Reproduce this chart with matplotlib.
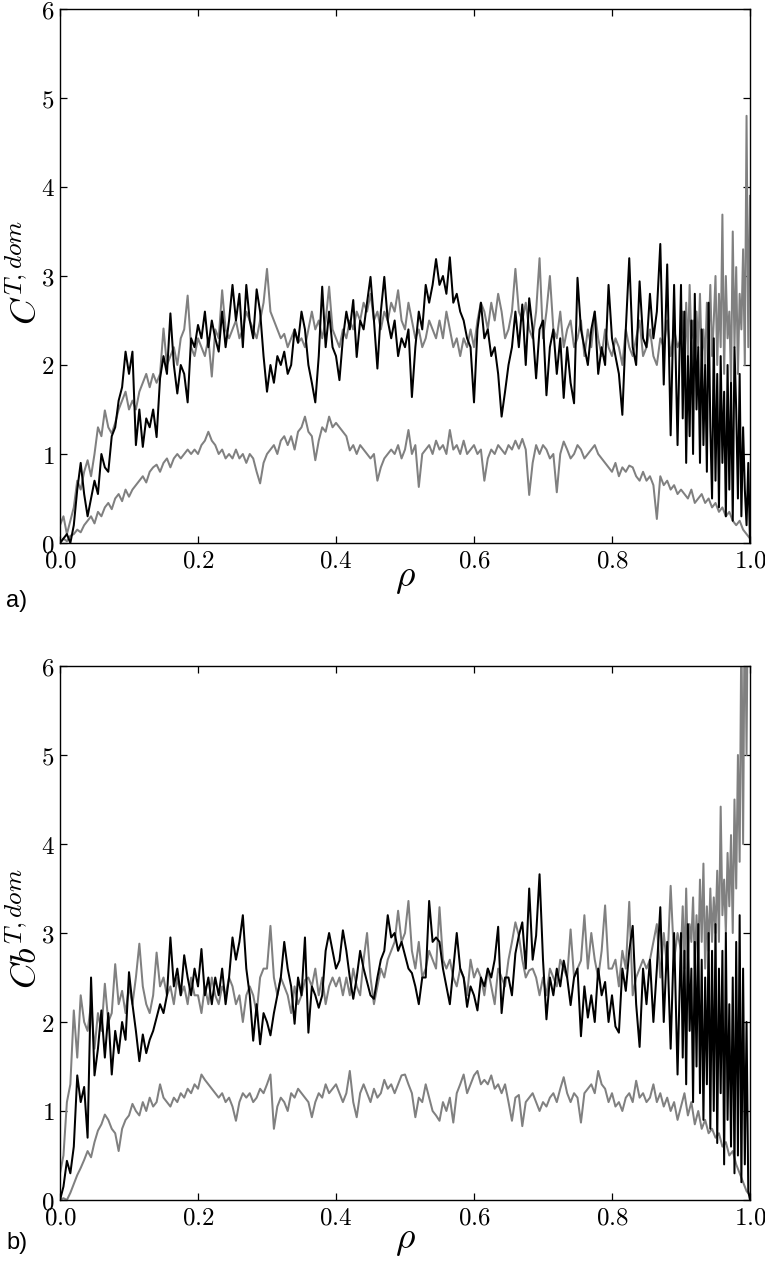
import numpy as np
import matplotlib
matplotlib.use("Agg")
import matplotlib.pyplot as plt
from matplotlib.ticker import FixedLocator, FuncFormatter

plt.rcParams['mathtext.fontset'] = 'cm'

# ---------------- data ----------------
# "head" lists: rho = 0.000 ... 0.895 in steps of 0.005
# "tail" lists: rho = 0.900 ... 1.000 (denser where the curves are very noisy)
a_black = [
    0.0, 0.05, 0.1, 0.0, 0.2, 0.6, 0.9, 0.55, 0.3, 0.5,
    0.7, 0.55, 1.0, 0.85, 0.8, 1.2, 1.3, 1.6, 1.75, 2.15,
    1.9, 2.15, 1.1, 1.5, 1.08, 1.4, 1.3, 1.5, 1.19, 1.85,
    2.1, 1.9, 2.58, 2.0, 1.68, 2.0, 1.9, 1.58, 2.3, 2.2,
    2.45, 2.3, 2.6, 2.2, 2.5, 2.3, 2.15, 2.6, 2.2, 2.5,
    2.9, 2.5, 2.8, 2.2, 2.9, 2.5, 2.3, 2.85, 2.6, 2.1,
    1.7, 2.0, 1.8, 2.1, 2.0, 2.15, 1.9, 2.0, 2.4, 2.25,
    2.6, 2.4, 2.0, 1.8, 1.58, 2.1, 2.88, 2.2, 2.6, 2.2,
    2.1, 1.83, 2.3, 2.6, 2.4, 2.73, 2.09, 2.5, 2.4, 2.7,
    2.99, 2.5, 1.96, 2.6, 2.99, 2.5, 2.3, 2.5, 2.1, 2.3,
    2.2, 2.4, 1.64, 2.2, 2.6, 2.4, 2.9, 2.7, 2.9, 3.19,
    2.9, 3.0, 2.8, 3.21, 2.7, 2.8, 2.6, 2.5, 2.3, 2.2,
    1.58, 2.4, 2.7, 2.3, 2.4, 2.1, 2.2, 1.9, 1.42, 1.7,
    2.0, 2.2, 2.6, 2.2, 2.68, 2.0, 2.75, 2.4, 1.85, 2.4,
    2.5, 1.66, 2.2, 2.4, 1.9, 2.3, 1.63, 2.2, 1.8, 1.57,
    2.98, 2.4, 2.2, 2.0, 2.4, 2.6, 1.9, 2.2, 2.0, 2.9,
    2.3, 2.1, 1.9, 1.44, 2.4, 3.2, 2.2, 2.0, 2.94, 2.3,
    2.2, 2.8, 2.3, 2.6, 3.36, 1.78, 3.13, 1.21, 2.9, 1.1,
]
a_black_tail = [
    2.9, 1.4, 2.6, 0.9, 2.1, 1.2, 2.5, 1.0, 2.8, 1.5,
    2.2, 0.9, 2.4, 1.1, 2.0, 0.8, 2.7, 1.3, 0.5, 2.3,
    0.7, 1.9, 0.4, 2.1, 0.9, 1.7, 0.3, 2.0, 0.6, 1.8,
    0.25, 2.2, 1.5, 0.5, 1.9, 0.3, 1.3, 0.6, 0.2, 0.9,
    0.0,
]
a_gray_hi = [
    0.2, 0.3, 0.1, 0.25, 0.4, 0.7, 0.6, 0.8, 0.93, 0.75,
    1.0, 1.3, 1.2, 1.49, 1.3, 1.23, 1.35, 1.5, 1.6, 1.7,
    1.5, 1.6, 1.5, 1.7, 1.8, 1.9, 1.75, 1.9, 1.8, 1.9,
    2.41, 2.0, 2.1, 2.2, 2.0, 2.3, 2.4, 2.78, 2.2, 2.1,
    2.3, 2.2, 2.1, 2.3, 1.87, 2.4, 2.3, 2.84, 2.4, 2.3,
    2.4, 2.5, 2.3, 2.4, 2.6, 2.5, 2.4, 2.3, 2.5, 2.7,
    3.08, 2.6, 2.5, 2.4, 2.3, 2.35, 2.2, 2.3, 2.4, 2.25,
    2.3, 2.2, 2.4, 2.6, 2.4, 2.5, 2.3, 2.5, 2.88, 2.4,
    2.3, 2.2, 2.4, 2.3, 2.5, 2.4, 2.6, 2.5, 2.7, 2.6,
    2.8, 2.5, 2.6, 2.4, 2.6, 2.5, 2.7, 2.6, 2.84, 2.5,
    2.4, 2.7, 2.5, 2.3, 2.4, 2.2, 2.3, 2.5, 2.4, 2.3,
    2.5, 2.3, 2.6, 2.4, 2.2, 2.3, 2.1, 2.3, 2.2, 2.4,
    2.2, 2.5, 2.7, 2.6, 2.4, 2.7, 2.5, 2.8, 2.6, 2.3,
    2.4, 2.6, 3.08, 2.6, 2.5, 2.7, 2.4, 2.3, 2.6, 3.2,
    2.3, 2.6, 3.0, 2.4, 2.3, 2.6, 2.2, 2.4, 2.5, 2.2,
    2.3, 2.5, 2.1, 2.4, 2.2, 2.6, 2.3, 2.1, 2.4, 2.2,
    2.1, 2.3, 2.2, 2.0, 2.4, 2.2, 2.1, 2.3, 2.5, 2.1,
    2.2, 2.4, 2.1, 2.0, 2.3, 2.2, 2.5, 2.1, 2.4, 2.2,
]
a_gray_hi_tail = [
    2.3, 2.6, 2.0, 2.7, 2.1, 2.9, 2.3, 2.5, 2.0, 2.6,
    2.2, 2.8, 2.1, 2.4, 2.0, 2.7, 2.3, 2.9, 2.1, 2.5,
    3.0, 2.0, 2.8, 2.2, 3.69, 1.9, 3.0, 2.3, 2.6, 1.8,
    3.5, 2.2, 3.1, 1.9, 2.8, 2.4, 3.3, 2.0, 4.8, 2.2,
    3.9,
]
a_gray_lo = [
    0.0, 0.05, 0.02, 0.08, 0.1, 0.15, 0.12, 0.2, 0.25, 0.3,
    0.22, 0.35, 0.3, 0.4, 0.45, 0.38, 0.5, 0.55, 0.47, 0.6,
    0.52, 0.6, 0.65, 0.7, 0.75, 0.68, 0.8, 0.85, 0.88, 0.8,
    0.9, 0.95, 0.85, 0.95, 1.0, 0.95, 1.0, 1.05, 1.0, 1.05,
    1.0, 1.1, 1.15, 1.25, 1.15, 1.1, 1.0, 1.05, 0.95, 1.0,
    0.95, 1.05, 0.95, 1.0, 0.9, 1.0, 0.95, 0.8, 0.67, 0.9,
    1.0, 1.05, 1.1, 1.0, 1.15, 1.2, 1.1, 1.2, 1.05, 1.25,
    1.3, 1.42, 1.25, 1.2, 0.93, 1.15, 1.3, 1.25, 1.42, 1.3,
    1.35, 1.3, 1.25, 1.2, 1.04, 1.1, 1.0, 1.1, 1.05, 1.0,
    0.95, 1.0, 0.7, 0.85, 0.95, 1.0, 1.05, 1.0, 1.1, 0.95,
    1.05, 1.27, 1.0, 1.1, 0.63, 1.0, 1.05, 1.1, 1.0, 1.15,
    1.05, 1.1, 1.0, 1.27, 1.05, 1.1, 1.0, 1.15, 1.0, 1.05,
    1.1, 1.0, 1.05, 0.7, 0.95, 1.05, 1.0, 1.1, 1.05, 1.0,
    1.1, 1.05, 1.15, 1.06, 1.17, 1.05, 0.54, 0.9, 1.1, 1.0,
    1.1, 1.05, 0.95, 1.0, 0.57, 1.0, 1.14, 1.05, 0.95, 1.0,
    1.1, 1.05, 0.95, 1.0, 1.05, 1.1, 1.0, 0.95, 0.9, 0.85,
    0.8, 0.9, 0.75, 0.85, 0.8, 0.87, 0.85, 0.75, 0.7, 0.8,
    0.7, 0.75, 0.65, 0.27, 0.75, 0.65, 0.7, 0.6, 0.65, 0.55,
]
a_gray_lo_tail = [
    0.6, 0.55, 0.5, 0.6, 0.45, 0.5, 0.55, 0.45, 0.5, 0.4,
    0.45, 0.35, 0.4, 0.3, 0.35, 0.25, 0.2, 0.25, 0.15, 0.1,
    0.05,
]

b_black = [
    0.0, 0.15, 0.44, 0.3, 0.6, 1.4, 1.1, 1.27, 0.7, 2.5,
    1.4, 1.7, 2.13, 1.6, 2.1, 1.41, 1.9, 1.65, 2.0, 1.8,
    2.56, 2.2, 1.9, 1.56, 1.86, 1.65, 1.8, 1.9, 2.05, 2.2,
    2.1, 2.3, 2.95, 2.4, 2.6, 2.3, 2.75, 2.5, 2.3, 2.6,
    2.4, 2.82, 2.3, 2.5, 2.2, 2.5, 2.3, 2.6, 2.2, 2.5,
    2.95, 2.7, 2.9, 3.2, 2.6, 2.3, 1.79, 2.2, 1.75, 2.1,
    2.0, 1.85, 2.1, 2.3, 2.5, 2.9, 2.6, 2.4, 1.98, 2.5,
    2.3, 2.95, 1.88, 2.4, 2.3, 2.16, 2.3, 2.8, 3.0, 2.8,
    2.6, 2.69, 3.03, 2.8, 2.5, 2.26, 2.5, 2.8, 2.6, 2.45,
    2.3, 2.26, 2.5, 2.7, 2.8, 3.2, 2.95, 3.0, 2.8, 2.9,
    2.75, 2.6, 2.55, 2.4, 2.2, 2.5, 2.5, 3.36, 2.9, 2.95,
    2.9, 2.6, 2.4, 2.2, 2.6, 3.0, 2.6, 2.5, 2.17, 2.4,
    2.3, 2.13, 2.5, 2.4, 2.6, 2.5, 2.7, 3.07, 2.1, 2.5,
    2.5, 2.3, 2.77, 2.97, 3.12, 2.6, 3.5, 2.7, 2.97, 3.66,
    2.7, 2.03, 2.5, 2.3, 2.6, 2.4, 2.69, 2.5, 2.19, 2.5,
    2.6, 1.84, 2.4, 2.05, 2.3, 2.0, 2.6, 2.3, 2.45, 2.0,
    2.3, 1.95, 1.88, 2.6, 2.35, 2.8, 3.08, 2.2, 1.72, 2.6,
    2.2, 2.7, 2.0, 2.6, 3.29, 2.0, 2.9, 1.7, 3.0, 1.41,
]
b_black_tail = [
    3.0, 1.6, 2.8, 1.3, 3.1, 1.9, 2.6, 1.1, 2.9, 1.5,
    3.1, 1.2, 2.7, 0.9, 2.5, 1.3, 3.0, 0.8, 2.8, 1.0,
    3.1, 0.64, 2.6, 1.2, 2.8, 0.4, 3.0, 0.9, 2.2, 0.6,
    2.5, 0.3, 2.9, 0.5, 3.2, 0.2, 2.6, 0.4, 2.0, 0.1,
    0.0,
]
b_gray_hi = [
    0.3, 0.5, 1.1, 1.3, 2.13, 1.6, 2.3, 2.0, 1.9, 2.2,
    1.7, 2.1, 1.9, 2.43, 2.0, 2.1, 2.65, 2.2, 2.35, 2.1,
    2.4, 2.2, 2.5, 2.88, 2.4, 2.2, 2.1, 2.3, 2.78, 2.4,
    2.5, 2.3, 2.4, 2.2, 2.5, 2.3, 2.4, 2.2, 2.5, 2.3,
    2.3, 2.1, 2.4, 2.2, 2.5, 2.3, 2.2, 2.4, 2.3, 2.5,
    2.4, 2.2, 2.3, 2.0, 2.3, 2.4, 2.3, 2.1, 2.5, 2.6,
    2.6, 3.08, 2.5, 2.3, 2.5, 2.4, 2.3, 2.1, 2.4, 2.2,
    2.3, 2.47, 2.5, 2.4, 2.6, 2.3, 2.5, 2.2, 2.4, 2.5,
    2.4, 2.5, 2.3, 2.5, 2.3, 2.6, 2.4, 2.3, 2.7, 3.0,
    2.5, 2.2, 2.4, 2.6, 2.5, 2.7, 2.8, 2.9, 3.25, 2.9,
    3.0, 3.36, 2.8, 2.6, 2.9, 2.5, 2.6, 2.8, 2.7, 2.6,
    3.29, 2.7, 2.6, 2.7, 2.5, 2.4, 2.6, 2.5, 2.3, 2.7,
    2.5, 2.6, 2.5, 2.3, 2.6, 2.4, 2.2, 2.6, 2.5, 2.4,
    2.7, 2.9, 3.12, 2.97, 2.7, 2.5, 2.58, 2.6, 2.5, 2.3,
    2.5, 2.3, 2.6, 2.5, 2.4, 2.7, 2.6, 2.5, 3.04, 2.5,
    2.6, 2.69, 3.2, 2.6, 3.0, 2.7, 2.5, 2.8, 3.31, 2.6,
    2.6, 2.7, 2.4, 2.8, 2.6, 3.35, 2.3, 2.5, 2.6, 2.7,
    2.6, 2.7, 2.9, 3.1, 2.5, 3.0, 2.6, 3.53, 2.7, 3.0,
]
b_gray_hi_tail = [
    2.8, 3.3, 2.6, 3.5, 2.7, 3.1, 2.9, 3.4, 2.6, 3.2,
    2.7, 3.6, 2.9, 3.78, 2.6, 3.3, 2.8, 3.5, 2.9, 3.4,
    3.0, 3.7, 2.9, 4.42, 3.2, 3.6, 3.0, 3.9, 3.3, 4.1,
    3.0, 4.5, 3.5, 5.0, 3.8, 6.5, 4.0, 7.0, 5.0, 7.5,
    6.0,
]
b_gray_lo = [
    0.0, 0.02, 0.0, 0.08, 0.18, 0.28, 0.36, 0.45, 0.55, 0.48,
    0.65, 0.78, 0.85, 0.96, 0.9, 0.8, 0.75, 0.55, 0.8, 0.9,
    0.95, 1.08, 1.0, 0.95, 1.1, 1.0, 1.15, 1.05, 1.1, 1.3,
    1.15, 1.1, 1.05, 1.15, 1.1, 1.2, 1.15, 1.25, 1.2, 1.3,
    1.25, 1.41, 1.35, 1.3, 1.25, 1.2, 1.15, 1.2, 1.1, 1.15,
    1.05, 0.89, 1.1, 1.2, 1.15, 1.2, 1.1, 1.15, 1.25, 1.2,
    1.3, 1.41, 0.8, 1.05, 1.15, 1.1, 1.0, 1.2, 1.15, 1.25,
    1.2, 1.15, 1.1, 0.93, 1.1, 1.2, 1.15, 1.3, 1.2, 1.25,
    1.3, 1.2, 1.1, 1.2, 1.45, 1.1, 0.93, 1.2, 1.3, 1.2,
    1.1, 1.25, 1.15, 1.2, 1.35, 1.25, 1.3, 1.2, 1.3, 1.4,
    1.41, 1.3, 1.2, 0.93, 1.15, 1.1, 1.3, 1.15, 1.0, 0.95,
    0.89, 1.1, 1.0, 1.15, 0.87, 1.2, 1.3, 1.41, 1.2, 1.3,
    1.4, 1.45, 1.3, 1.35, 1.3, 1.4, 1.25, 1.3, 1.2, 1.3,
    1.1, 0.89, 1.15, 1.18, 0.83, 1.1, 1.15, 1.2, 1.1, 1.0,
    1.1, 1.05, 1.15, 1.2, 1.1, 1.25, 1.38, 1.2, 1.1, 1.2,
    1.15, 0.87, 1.2, 1.25, 1.3, 1.2, 1.45, 1.3, 1.25, 1.1,
    1.2, 1.05, 1.1, 1.0, 1.15, 1.2, 1.1, 1.34, 1.15, 1.2,
    1.1, 1.15, 1.3, 1.1, 1.2, 1.05, 1.15, 1.0, 1.1, 0.9,
]
b_gray_lo_tail = [
    1.05, 1.2, 0.95, 1.1, 0.85, 1.0, 0.8, 0.9, 0.75, 0.8,
    0.7, 0.75, 0.6, 0.65, 0.5, 0.55, 0.4, 0.3, 0.2, 0.1,
    0.05,
]

x_ticks = [0.0, 0.2, 0.4, 0.6, 0.8, 1.0]
y_ticks = [0, 1, 2, 3, 4, 5, 6]
panels = [
    ("a)", r"$C^{T,dom}$",
     (a_gray_lo, a_gray_lo_tail), (a_gray_hi, a_gray_hi_tail), (a_black, a_black_tail)),
    ("b)", r"$Cb^{T,dom}$",
     (b_gray_lo, b_gray_lo_tail), (b_gray_hi, b_gray_hi_tail), (b_black, b_black_tail)),
]


def series_xy(head, tail):
    xs = np.concatenate([np.linspace(0.0, 0.895, len(head)),
                         np.linspace(0.9, 1.0, len(tail))])
    return xs, np.array(list(head) + list(tail))


# ---------------- figure ----------------
W, H = 765, 1262
fig = plt.figure(figsize=(W / 100, H / 100), dpi=100)

boxes = [(60, 9, 750, 543), (60, 666, 750, 1200)]   # pixel boxes l, t, r, b
rho_y = [578, 1240]
tag_y = [601, 1243]
GRAY = "#808080"

for k, ((tag, ylab, g_lo, g_hi, blk), (l, t, r, b)) in enumerate(zip(panels, boxes)):
    ax = fig.add_axes([l / W, 1 - b / H, (r - l) / W, (b - t) / H])
    for (hd, tl), col in ((g_lo, GRAY), (g_hi, GRAY), (blk, "black")):
        xs, ys = series_xy(hd, tl)
        ax.plot(xs, ys, color=col, lw=1.45)
    ax.set_xlim(0, 1)
    ax.set_ylim(0, 6)
    ax.xaxis.set_major_locator(FixedLocator(x_ticks))
    ax.yaxis.set_major_locator(FixedLocator(y_ticks))
    ax.xaxis.set_major_formatter(FuncFormatter(lambda v, p: r"$%.1f$" % v))
    ax.yaxis.set_major_formatter(FuncFormatter(lambda v, p: r"$%d$" % round(v)))
    ax.tick_params(direction="in", length=5, width=0.9, top=True, right=True,
                   labelsize=18, pad=4)
    for s in ax.spines.values():
        s.set_linewidth(1.0)
    fig.text(405 / W, 1 - rho_y[k] / H, r"$\rho$", fontsize=27,
             ha="center", va="center")
    fig.text(26 / W, 1 - (t + 263) / H, ylab, fontsize=26, rotation=90,
             ha="center", va="center")
    fig.text(17 / W, 1 - tag_y[k] / H, tag, fontsize=17,
             family="Liberation Sans", ha="center", va="center")

fig.savefig("out.png", dpi=100)
